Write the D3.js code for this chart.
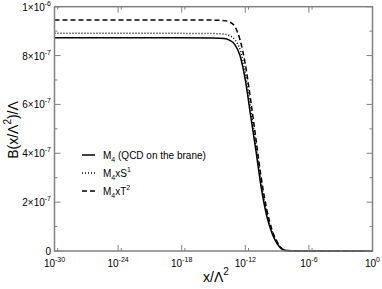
<!DOCTYPE html>
<html><head><meta charset="utf-8">
<script src="https://cdn.jsdelivr.net/npm/d3@7"></script>
<style>
html,body{margin:0;padding:0;background:#fff;}
svg{display:block;font-family:"Liberation Sans",Arial,Helvetica,sans-serif;}
</style></head>
<body>
<svg id="c" width="382" height="289"></svg>
<script>
// x grid as powers of ten (log10 of x/Λ²)
const xExp = [-30, -20, -15, -14, -13.5, -13, -12.5, -12, -11.5, -11, -10.5, -10, -9.5, -9, -8.5, -8, -6, 0];
// B values in units of 1e-7
const m4 =   [8.73, 8.73, 8.72, 8.70, 8.63, 8.46, 8.0, 7.0, 5.55, 4.12, 2.6, 1.47, 0.75, 0.3, 0.06, 0.01, 0, 0];
const m4s1 = [8.91, 8.91, 8.90, 8.88, 8.82, 8.66, 8.25, 7.3, 5.85, 4.35, 2.8, 1.6, 0.82, 0.34, 0.07, 0.01, 0, 0];
const m4t2 = [9.46, 9.46, 9.45, 9.43, 9.38, 9.2, 8.65, 7.65, 6.2, 4.6, 3.0, 1.75, 0.9, 0.38, 0.09, 0.02, 0, 0];
const xTickExp = [-30, -24, -18, -12, -6, 0];
const yTicks = [0, 2, 4, 6, 8, 10];          // in 1e-7
const yMinor = [1, 3, 5, 7, 9];
const legendLabels = [
  [["M",""],["4","sub"],[" (QCD on the brane)",""]],
  [["M",""],["4","sub"],["xS",""],["1","sup"]],
  [["M",""],["4","sub"],["xT",""],["2","sup"]]
];
const dashes = [null, "1,2", "5,3"];

const svg = d3.select("#c");
const L = 54.5, R = 372.5, T = 6.7, B = 251;
const x = d3.scaleLog().domain([1e-30, 1]).range([L, R]);
const y = d3.scaleLinear().domain([0, 1e-6]).range([B, T]);
const frameCol = "#808080";

// curves
const series = [m4, m4s1, m4t2];
const line = d3.line().x(d => x(d[0])).y(d => y(d[1])).curve(d3.curveMonotoneX);
series.forEach((s, i) => {
  const pts = xExp.map((e, j) => [Math.pow(10, e), s[j] * 1e-7]);
  svg.append("path").attr("d", line(pts)).attr("fill", "none")
    .attr("stroke", "#000").attr("stroke-width", 1.5)
    .attr("stroke-dasharray", dashes[i]);
});

// frame
svg.append("rect").attr("x", L).attr("y", T).attr("width", R - L).attr("height", B - T)
  .attr("fill", "none").attr("stroke", frameCol).attr("stroke-width", 1.5);

// y ticks
const tk = svg.append("g").attr("stroke", frameCol).attr("stroke-width", 1);
yTicks.forEach(v => {
  const yy = y(v * 1e-7);
  tk.append("line").attr("x1", L).attr("x2", L + 6).attr("y1", yy).attr("y2", yy);
  tk.append("line").attr("x1", R).attr("x2", R - 6).attr("y1", yy).attr("y2", yy);
});
yMinor.forEach(v => {
  const yy = y(v * 1e-7);
  tk.append("line").attr("x1", L).attr("x2", L + 3).attr("y1", yy).attr("y2", yy);
  tk.append("line").attr("x1", R).attr("x2", R - 3).attr("y1", yy).attr("y2", yy);
});
// x ticks
xTickExp.forEach(e => {
  const xx = x(Math.pow(10, e));
  tk.append("line").attr("x1", xx).attr("x2", xx).attr("y1", B).attr("y2", B - 6);
  tk.append("line").attr("x1", xx).attr("x2", xx).attr("y1", T).attr("y2", T + 6);
  if (e < 0) {
    const xm = x(2 * Math.pow(10, e));
    tk.append("line").attr("x1", xm).attr("x2", xm).attr("y1", B).attr("y2", B - 3);
    tk.append("line").attr("x1", xm).attr("x2", xm).attr("y1", T).attr("y2", T + 3);
  }
});

// y labels
yTicks.forEach(v => {
  const t = svg.append("text").attr("x", 51).attr("y", y(v * 1e-7) + 4)
    .attr("text-anchor", "end").attr("font-size", 10).attr("fill", "#000");
  if (v === 0) { t.text("0"); return; }
  const m = v === 10 ? "1" : String(v);
  const ex = v === 10 ? "-6" : "-7";
  t.append("tspan").text(m + "\u00d710");
  t.append("tspan").attr("dy", -5).attr("font-size", 7).text(ex);
});
// x labels
xTickExp.forEach(e => {
  const t = svg.append("text").attr("x", x(Math.pow(10, e))).attr("y", 266.5)
    .attr("text-anchor", "middle").attr("font-size", 10).attr("fill", "#000");
  t.append("tspan").text("10");
  t.append("tspan").attr("dy", -5).attr("font-size", 7).text(String(e));
});

// axis titles
const xt = svg.append("text").attr("x", 216).attr("y", 282).attr("text-anchor", "middle")
  .attr("font-size", 14);
xt.append("tspan").text("x/\u039b");
xt.append("tspan").attr("dy", -7).attr("font-size", 10).text("2");

const yt = svg.append("text").attr("transform", "translate(18,130) rotate(-90)")
  .attr("text-anchor", "middle").attr("font-size", 14);
yt.append("tspan").text("B(x/\u039b");
yt.append("tspan").attr("dy", -7).attr("font-size", 10).text("2");
yt.append("tspan").attr("dy", 7).text(")/\u039b");

// legend
const legY = [155, 173, 191];
legendLabels.forEach((parts, i) => {
  svg.append("line").attr("x1", 82).attr("x2", 95).attr("y1", legY[i]).attr("y2", legY[i])
    .attr("stroke", "#000").attr("stroke-width", 1.5).attr("stroke-dasharray", dashes[i]);
  const t = svg.append("text").attr("x", 103).attr("y", legY[i] + 3.5).attr("font-size", 10);
  let cur = 0;
  parts.forEach(([s, k]) => {
    let target = k === "sub" ? 3 : k === "sup" ? -5 : 0;
    const ts = t.append("tspan").text(s);
    if (target !== cur) ts.attr("dy", target - cur);
    if (k) ts.attr("font-size", 7);
    cur = target;
  });
});
</script>
</body></html>
